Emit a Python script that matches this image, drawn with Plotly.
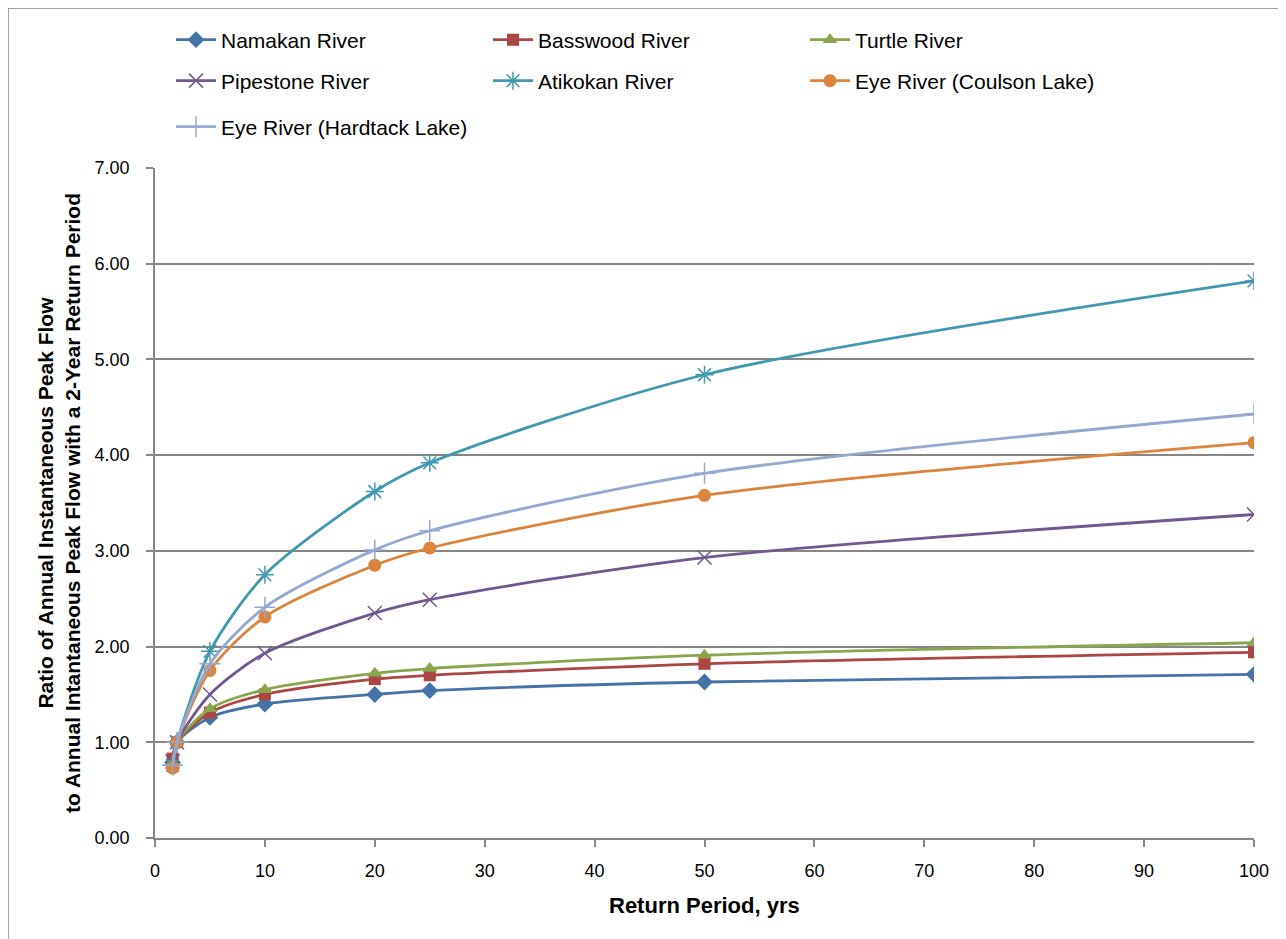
import plotly.graph_objects as go

return_periods = [1.6, 2, 5, 10, 20, 25, 50, 100]

namakan = [0.79, 1.00, 1.26, 1.40, 1.50, 1.54, 1.63, 1.71]
basswood = [0.83, 1.00, 1.31, 1.50, 1.66, 1.70, 1.82, 1.94]
turtle = [0.79, 1.00, 1.35, 1.55, 1.72, 1.77, 1.91, 2.04]
pipestone = [0.80, 1.00, 1.50, 1.93, 2.35, 2.49, 2.93, 3.38]
atikokan = [0.76, 1.00, 1.95, 2.75, 3.62, 3.92, 4.84, 5.82]
coulson = [0.73, 1.00, 1.75, 2.31, 2.85, 3.03, 3.58, 4.13]
hardtack = [0.76, 1.00, 1.82, 2.41, 3.01, 3.21, 3.81, 4.43]

series_names = ["Namakan River", "Basswood River", "Turtle River", "Pipestone River",
                "Atikokan River", "Eye River (Coulson Lake)", "Eye River (Hardtack Lake)"]
series_values = [namakan, basswood, turtle, pipestone, atikokan, coulson, hardtack]
colors = ["#4572A7", "#AA4643", "#89A54E", "#71588F", "#4198AF", "#DB843D", "#93A9CF"]
symbols = ["diamond", "square", "triangle-up", "x-thin", "asterisk", "circle", "cross-thin"]
sizes = [13, 12, 13, 14, 15, 13, 15]
legend_rows = ["legend", "legend", "legend", "legend2", "legend2", "legend2", "legend3"]

FONT = "Liberation Sans, Arial, sans-serif"

# figure geometry (page body adds an 8px offset)
W, H = 1278, 931
L, T, R, B = 147, 160, 32, 101
PW, PH = W - L - R, H - T - B


def px_x(fx):
    return (fx - L) / PW


def px_y(fy):
    return 1 + (T - fy) / PH


fig = go.Figure()
for name, vals, c, s, sz, lg in zip(series_names, series_values, colors, symbols, sizes, legend_rows):
    open_sym = s in ("x-thin", "asterisk", "cross-thin")
    fig.add_trace(go.Scatter(
        x=return_periods, y=vals, name=name, mode="lines+markers", legend=lg,
        line=dict(color=c, width=2.8, shape="spline", smoothing=0.8),
        marker=dict(symbol=s, size=sz, color=c,
                    line=dict(color=c, width=1.5 if open_sym else 0)),
    ))

legend_common = dict(orientation="h", xanchor="left", yanchor="middle",
                     entrywidth=262, entrywidthmode="pixels",
                     font=dict(family=FONT, size=21, color="black"),
                     itemwidth=40, bgcolor="rgba(0,0,0,0)")
row_y = [32, 73, 119]

fig.update_layout(
    width=W, height=H,
    paper_bgcolor="white", plot_bgcolor="white",
    margin=dict(l=L, r=R, t=T, b=B, autoexpand=False),
    font=dict(family=FONT, size=17, color="black"),
    showlegend=True,
    legend=dict(x=px_x(163), y=px_y(row_y[0]), **legend_common),
    legend2=dict(x=px_x(163), y=px_y(row_y[1]), **legend_common),
    legend3=dict(x=px_x(163), y=px_y(row_y[2]), **legend_common),
    xaxis=dict(range=[0, 100], dtick=10, tick0=0, showgrid=False,
               showline=True, linecolor="#868686", linewidth=1.5,
               ticks="outside", ticklen=7, tickcolor="#868686", tickwidth=1.5,
               ticklabelstandoff=9,
               tickfont=dict(family=FONT, size=18),
               zeroline=False),
    yaxis=dict(range=[0, 7], dtick=1, tick0=0, tickformat=".2f",
               showgrid=True, gridcolor="#868686", gridwidth=1.5,
               showline=True, linecolor="#868686", linewidth=1.5,
               ticks="outside", ticklen=7, tickcolor="#868686", tickwidth=1.5,
               ticklabelstandoff=13,
               tickfont=dict(family=FONT, size=18),
               zeroline=False),
    annotations=[
        dict(text="<b>Return Period, yrs</b>", xref="paper", yref="paper",
             x=0.5, y=px_y(897), xanchor="center", yanchor="middle", showarrow=False,
             font=dict(family=FONT, size=22, color="black")),
        dict(text="<b>Ratio of Annual Instantaneous Peak Flow<br>to Annual Intantaneous Peak Flow with a 2-Year Return Period</b>",
             xref="paper", yref="paper", x=px_x(51), y=0.5, xanchor="center", yanchor="middle",
             textangle=-90, showarrow=False,
             font=dict(family=FONT, size=21, color="black")),
    ],
    shapes=[
        dict(type="line", xref="paper", yref="paper",
             x0=px_x(0), x1=px_x(0), y0=px_y(0), y1=px_y(H + 20),
             line=dict(color="#868686", width=1.5)),
        dict(type="line", xref="paper", yref="paper",
             x0=px_x(0), x1=px_x(W + 20), y0=px_y(0), y1=px_y(0),
             line=dict(color="#868686", width=1.5)),
    ],
)

fig.write_html("out.html")
